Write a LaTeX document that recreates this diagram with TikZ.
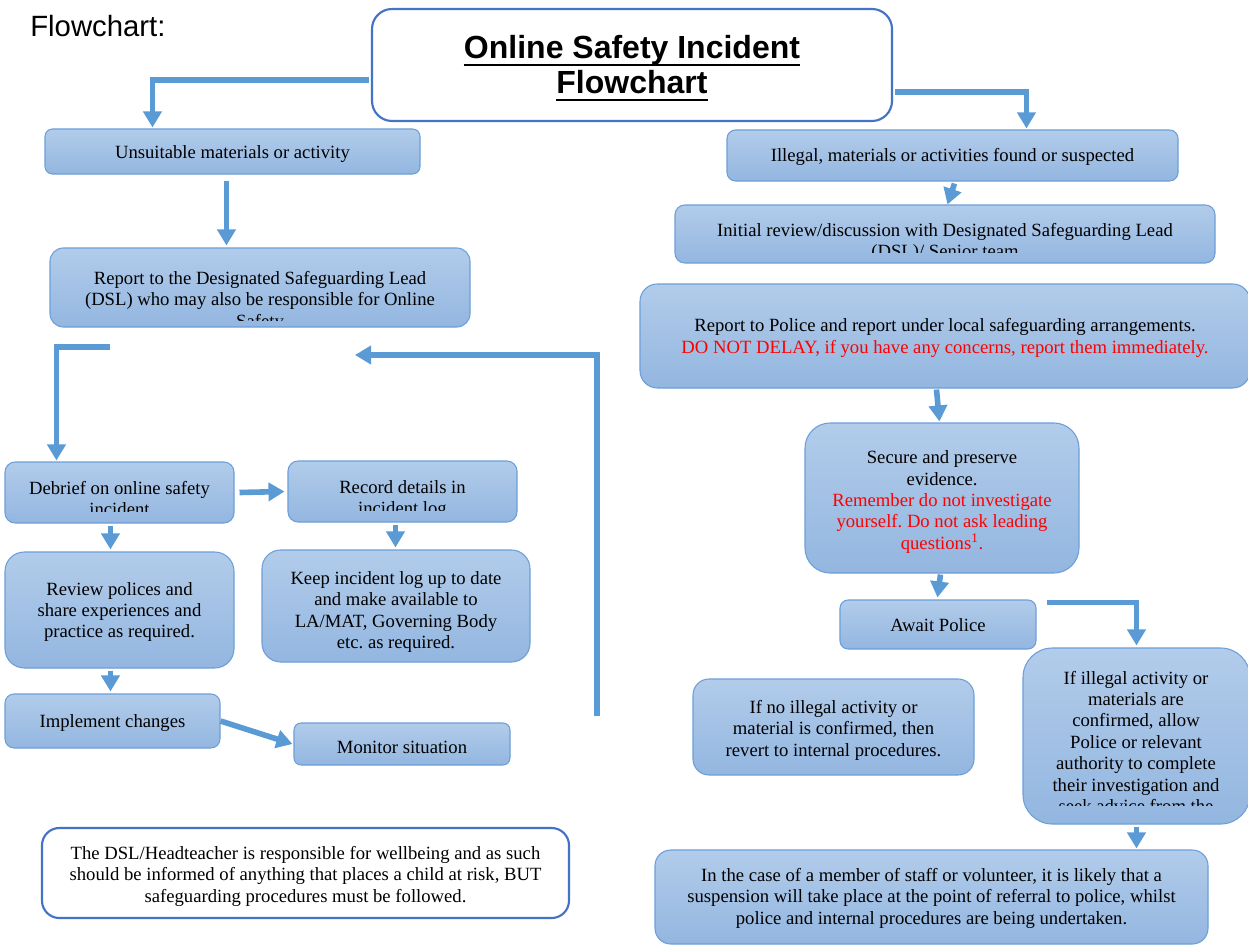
\documentclass[tikz,border=0pt]{standalone}
\usepackage{fontspec}
\setmainfont{Liberation Serif}
\newfontfamily\sansf{Liberation Sans}
\usetikzlibrary{arrows.meta,calc,fit}
\frenchspacing
\definecolor{arrc}{HTML}{5B9BD5}
\definecolor{btop}{HTML}{B2CCEA}
\definecolor{bbot}{HTML}{93B6E0}
\definecolor{bline}{HTML}{6C9FD9}
\definecolor{framec}{HTML}{4472C4}
\definecolor{warn}{HTML}{FF0000}
\tikzset{
 fbox/.style={draw=bline, line width=0.8pt, top color=btop, bottom color=bbot, inner sep=0pt},
 wbox/.style={draw=framec, line width=1.6pt, fill=white, inner sep=0pt},
 txt/.style={inner sep=0pt, align=center, font=\fontsize{14}{16.1}\selectfont\frenchspacing, text=black},
 arr/.style={draw=arrc, line width=4.2pt, -{Triangle[length=12pt,width=13.5pt]}},
 uline/.style={draw=black, line width=2pt},
}
\newcommand\mybox[7]{\node[#7, rounded corners=#6, fit={(#2,#3) (#4,#5)}] (#1) {};}
\begin{document}
\begin{tikzpicture}[x=0.75pt,y=-0.75pt]
\useasboundingbox (0,0) rectangle (1248,945);
\fill[white] (0,0) rectangle (1248,945);

% header
\node[anchor=base west, inner sep=0pt, font=\sansf\fontsize{22}{26}\selectfont] (hdr) at (30,37) {Flowchart:};

% title
\mybox{title}{372}{9}{892}{121}{15pt}{wbox}
\node[anchor=base, inner sep=0pt, font=\sansf\bfseries\fontsize{24}{28}\selectfont] (t1) at (632,59) {Online Safety Incident};
\node[anchor=base, inner sep=0pt, font=\sansf\bfseries\fontsize{24}{28}\selectfont] (t2) at (632,94) {Flowchart};
\draw[uline] ($(t1.base west)+(0,6)$) -- ($(t1.base east)+(0,6)$);
\draw[uline] ($(t2.base west)+(0,6)$) -- ($(t2.base east)+(0,6)$);

% left column
\mybox{unsuit}{45}{129}{420}{174}{5.6pt}{fbox}
\node[txt] (unsuitT) at (232.5,154) {Unsuitable materials or activity};

\mybox{dsl}{50}{248}{470}{327}{10pt}{fbox}
\begin{scope}
\clip (50,248) rectangle (470,320);
\node[txt, anchor=base] (dslT) at (260,327) {Report to the Designated Safeguarding Lead\\(DSL) who may also be responsible for Online\\Safety};
\end{scope}

\mybox{debrief}{5}{462}{234}{523}{7.6pt}{fbox}
\begin{scope}
\clip (5,462) rectangle (234,511);
\node[txt, anchor=base] (debriefT) at (119.5,515.5) {Debrief on online safety\\incident};
\end{scope}

\mybox{record}{288}{461}{517}{522}{7.6pt}{fbox}
\begin{scope}
\clip (288,461) rectangle (517,510);
\node[txt, anchor=base] (recordT) at (402.5,514.5) {Record details in\\incident log};
\end{scope}

\mybox{review}{5}{552}{234}{668}{14.5pt}{fbox}
\node[txt] (reviewT) at (119.5,612) {Review polices and\\share experiences and\\practice as required.};

\mybox{keep}{262}{550}{530}{662}{14pt}{fbox}
\begin{scope}
\clip (262,550) rectangle (530,651);
\node[txt] (keepT) at (396,612) {Keep incident log up to date\\and make available to\\LA/MAT, Governing Body\\etc. as required.};
\end{scope}

\mybox{impl}{5}{694}{220}{748}{6.8pt}{fbox}
\node[txt] (implT) at (112.5,723) {Implement changes};

\mybox{monitor}{294}{723}{510}{765}{5.3pt}{fbox}
\node[txt] (monitorT) at (402,747) {Monitor situation};

\mybox{note}{42}{828}{569}{918}{13pt}{wbox}
\node[txt] (noteT) at (305.5,876) {The DSL/Headteacher is responsible for wellbeing and as such\\should be informed of anything that places a child at risk, BUT\\safeguarding procedures must be followed.};

% right column
\mybox{illegal}{727}{130}{1178}{181}{6.4pt}{fbox}
\node[txt] (illegalT) at (952.5,157) {Illegal, materials or activities found or suspected};

\mybox{initial}{675}{205}{1215}{263}{7.3pt}{fbox}
\begin{scope}
\clip (675,205) rectangle (1215,252);
\node[txt, anchor=base] (initialT) at (945,257.5) {Initial review/discussion with Designated Safeguarding Lead\\(DSL)/ Senior team};
\end{scope}

\mybox{police}{640}{284}{1250}{388}{13pt}{fbox}
\node[txt] (policeT) at (945,338) {Report to Police and report under local safeguarding arrangements.\\\textcolor{warn}{DO NOT DELAY, if you have any concerns, report them immediately.}};

\mybox{secure}{805}{423}{1079}{573}{18.8pt}{fbox}
\node[txt] (secureT) at (942,502) {Secure and preserve\\evidence.\\\textcolor{warn}{Remember do not investigate}\\\textcolor{warn}{yourself. Do not ask leading}\\\textcolor{warn}{questions\textsuperscript{1}.}};

\mybox{await}{840}{600}{1036}{649}{6.1pt}{fbox}
\node[txt] (awaitT) at (938,625) {Await Police};

\mybox{ifno}{693}{679}{974}{775}{12pt}{fbox}
\node[txt] (ifnoT) at (833.5,730) {If no illegal activity or\\material is confirmed, then\\revert to internal procedures.};

\mybox{ifill}{1023}{648}{1250}{824}{22pt}{fbox}
\begin{scope}
\clip (1023,648) rectangle (1250,805);
\node[txt, anchor=base] (ifillT) at (1136,812.8) {If illegal activity or\\materials are\\confirmed, allow\\Police or relevant\\authority to complete\\their investigation and\\seek advice from the};
\end{scope}

\mybox{case}{655}{850}{1208}{944}{11.8pt}{fbox}
\node[txt] (caseT) at (931.5,898) {In the case of a member of staff or volunteer, it is likely that a\\suspension will take place at the point of referral to police, whilst\\police and internal procedures are being undertaken.};

% connectors
\coordinate (brk) at (110,347);
\coordinate (ret) at (597,716);
\coordinate (retEnd) at (355,355);

\draw[arr] ($(title.west)+(-2,15)$) -| ($(unsuit.north west)+(108,-1)$);
\draw[arr] ($(title.east)+(2,27)$) -| ($(illegal.north west)+(300,-1)$);
\draw[arr] ($(unsuit.south west)+(182,6)$) -- ($(dsl.north west)+(177,-2)$);
\draw[arr] (brk) -| ($(debrief.north west)+(52,-1)$);
\draw[arr] (ret) |- (retEnd);
\draw[arr] ($(debrief.east)+(5,0)$) -- ($(record.west)+(-3,0)$);
\draw[arr] ($(debrief.south west)+(106,2)$) -- ($(review.north west)+(106,-2)$);
\draw[arr] ($(record.south west)+(108,2)$) -- ($(keep.north west)+(134,-2)$);
\draw[arr] ($(review.south west)+(106,2)$) -- ($(impl.north west)+(106,-2)$);
\draw[arr] (impl.east) -- ($(monitor.west)+(-1,0)$);

\draw[arr] ($(illegal.south west)+(228,2)$) -- ($(initial.north west)+(273,0)$);
\draw[arr] ($(police.south west)+(297,1)$) -- ($(secure.north west)+(135,-1)$);
\draw[arr] ($(secure.south west)+(136,1)$) -- ($(await.north west)+(98,-2)$);
\draw[arr] ($(await.north east)+(10,3)$) -| ($(ifill.north west)+(114,-2)$);
\draw[arr] ($(ifill.south west)+(114,2)$) -- ($(case.north west)+(482,-1)$);
\end{tikzpicture}
\end{document}
